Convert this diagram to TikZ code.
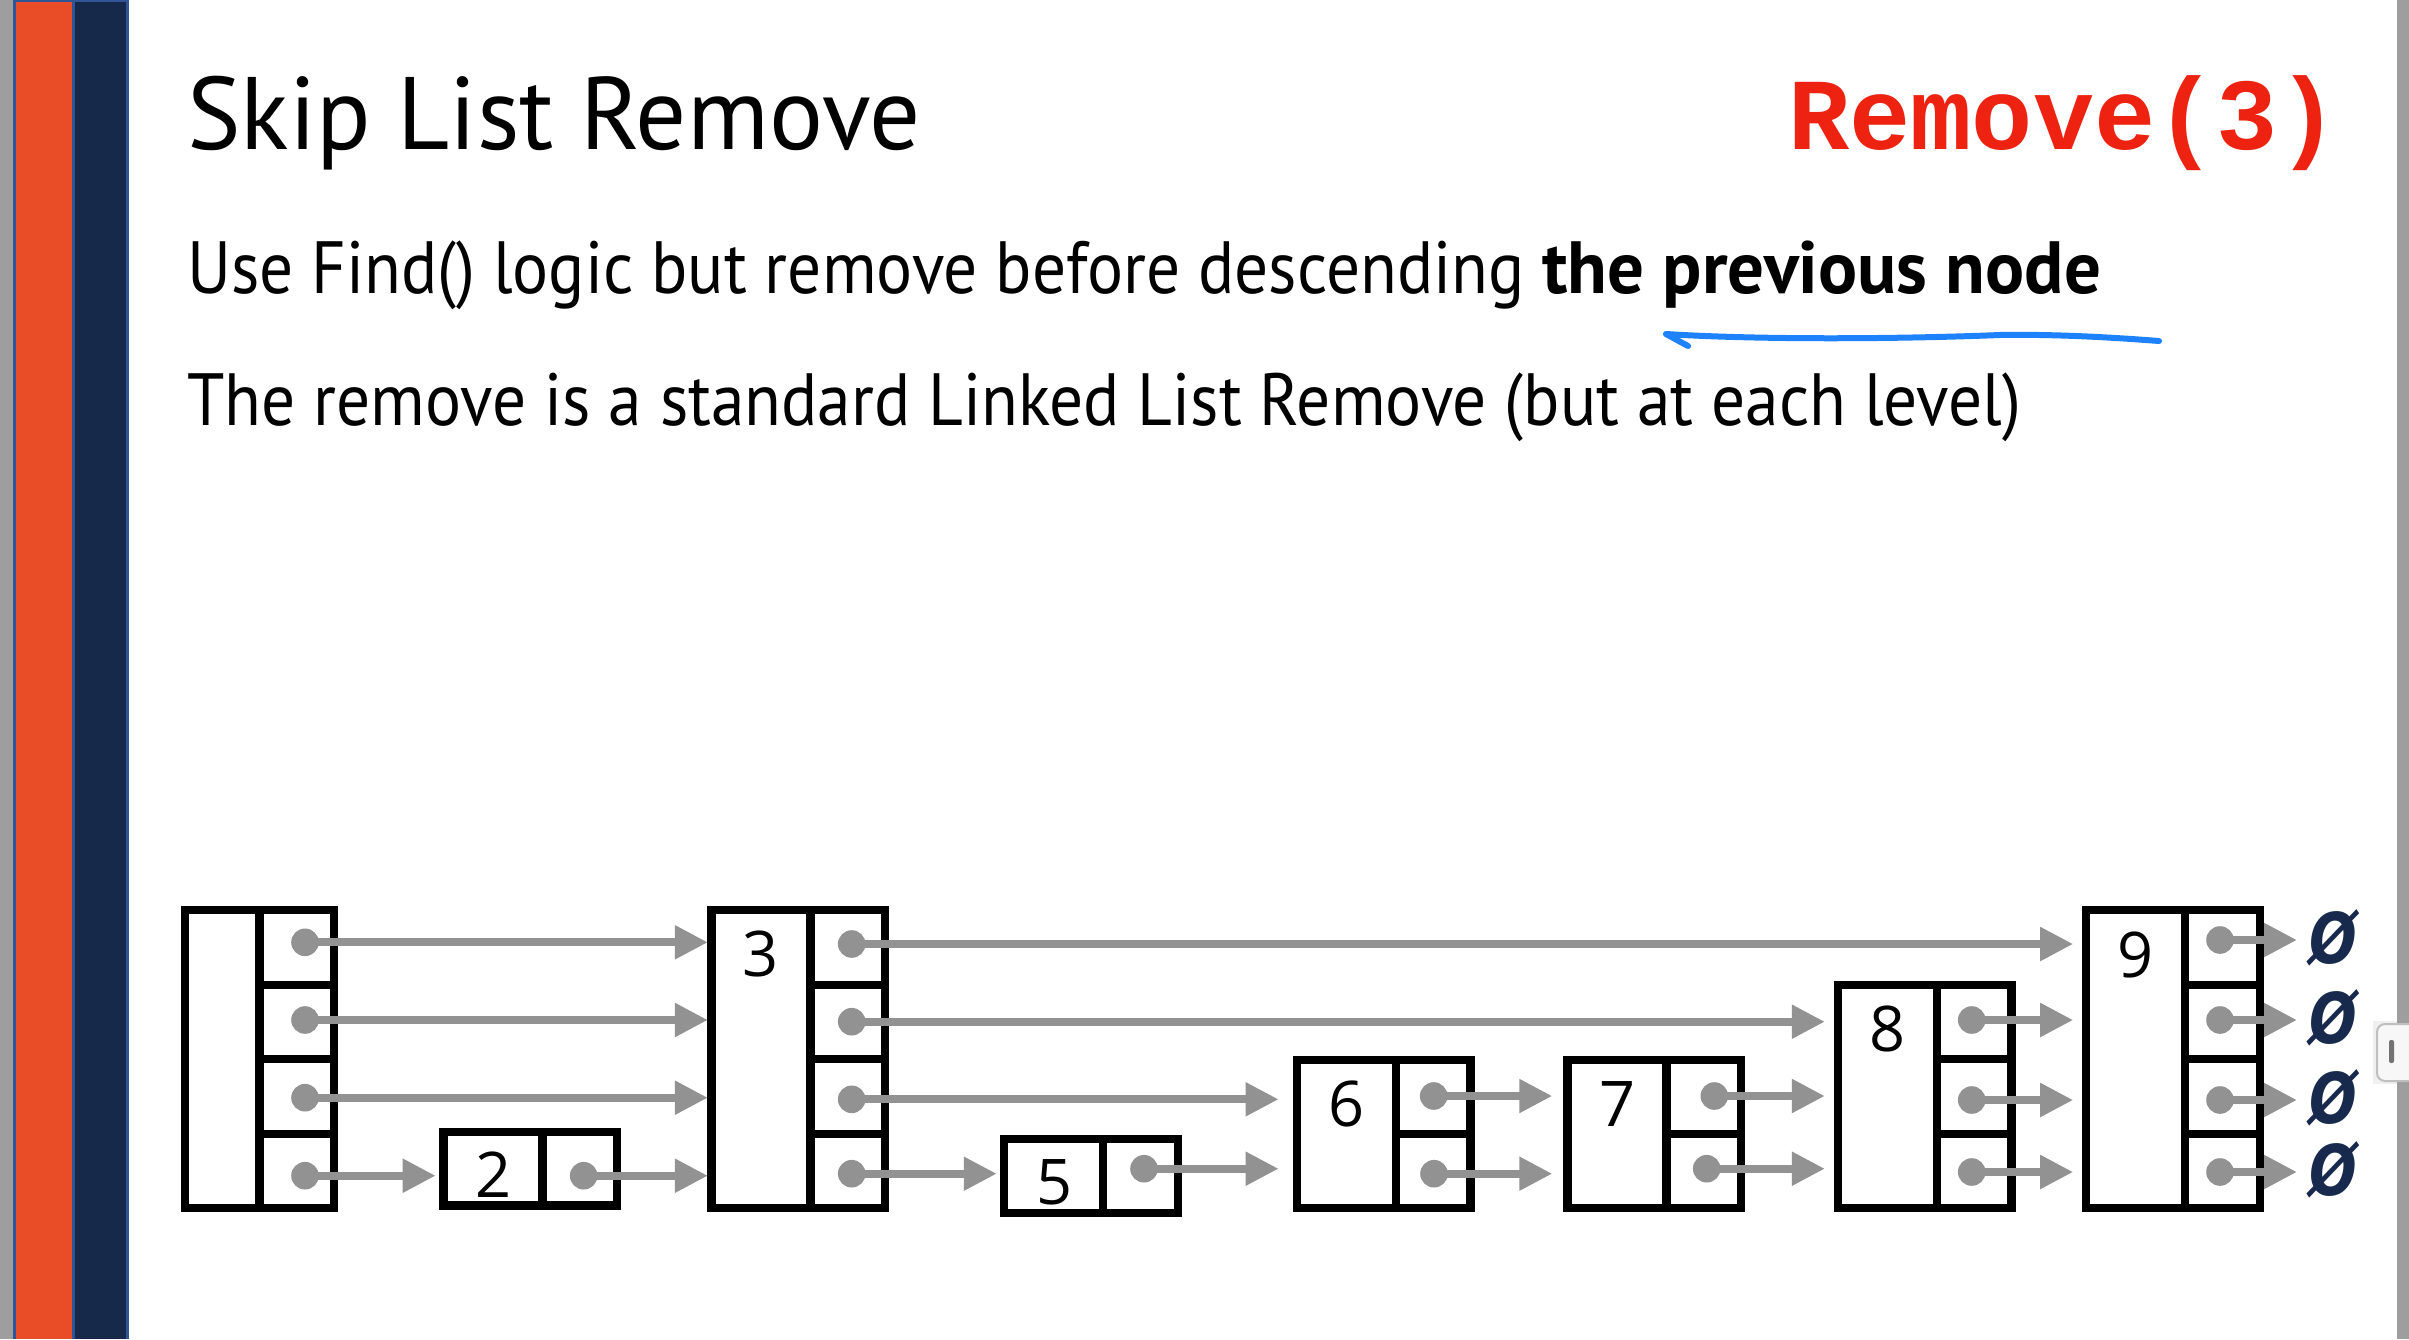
\documentclass[tikz,border=0pt]{standalone}
\usepackage{fontspec}
\setmainfont{PT Sans}
\newfontfamily\titlefont[FakeStretch=0.98]{PT Sans}
\newfontfamily\bodyfont[FakeStretch=0.91,BoldFeatures={FakeStretch=0.985}]{PT Sans}
\newfontfamily\digitfont{Open Sans}
\newfontfamily\codefont{Liberation Mono}
\newfontfamily\emptysetfont[FakeStretch=0.8]{DejaVu Sans}
\usetikzlibrary{arrows.meta}
\definecolor{ptrgray}{HTML}{929292}
\definecolor{navy}{HTML}{17294D}
\definecolor{barorange}{HTML}{E84D27}
\definecolor{barnavy}{HTML}{16294A}
\definecolor{barblue}{HTML}{2F5597}
\definecolor{sidegray}{HTML}{9E9E9E}
\definecolor{codered}{HTML}{EE2211}
\definecolor{penblue}{HTML}{1E82FF}
\begin{document}
\begin{tikzpicture}[x=1pt,y=-1pt,
  cellbox/.style={draw=black, line width=8.3pt, inner sep=0pt, outer sep=0pt, minimum height=74.5pt},
  valcell/.style={cellbox, minimum width=99pt},
  ptrcell/.style={cellbox, minimum width=74.6pt},
  dot/.style={circle, fill=ptrgray, inner sep=0pt, outer sep=0pt, minimum size=27.6pt},
  ptr/.style={draw=ptrgray, line width=8pt, -{Triangle[length=33pt,width=32pt]}},
  digit/.style={font=\digitfont\fontsize{63}{63}\selectfont, inner sep=0pt},
  nullptr/.style={text=navy, font=\emptysetfont\bfseries\itshape\fontsize{70}{70}\selectfont, inner sep=0pt, anchor=west},
  bodytext/.style={font=\bodyfont\fontsize{74}{80}\selectfont, inner sep=0pt, anchor=base west},
]
\useasboundingbox (0,0) rectangle (2409,1339);
\fill[white] (0,0) rectangle (2409,1339);
% side bars
\fill[sidegray] (0,0) rectangle (13.3,1339);
\fill[barblue] (13.3,0) rectangle (128.7,1339);
\fill[barorange] (15.7,2) rectangle (71.7,1339);
\fill[barnavy] (75,2) rectangle (126,1339);
% scrollbar
\fill[sidegray] (2397,0) rectangle (2409,1339);
\fill[black!6] (2373,1021) rectangle (2397,1084);
\draw[black!25, fill=black!3, line width=2pt, rounded corners=8pt] (2377,1024) rectangle (2420,1081);
\fill[black!55, rounded corners=2pt] (2389,1040) rectangle (2394,1063);

% texts
\node[anchor=base west, inner sep=0pt, font=\titlefont\fontsize{103}{110}\selectfont] (title) at (187,149) {Skip List Remove};
\node[anchor=base west, inner sep=0pt, text=codered, font=\codefont\bfseries\fontsize{102}{110}\selectfont] (call) at (1788,149) {Remove(3)};
\node[bodytext] (line1) at (187,293) {Use Find() logic but remove before descending \textbf{the previous node}};
\node[bodytext] (line2) at (187,425) {The remove is a standard Linked List Remove (but at each level)};
\draw[penblue, line width=6pt, line cap=round, line join=round]
  (1688,346) -- (1666,334) .. controls (1760,340) and (1900,339) .. (2000,335)
  .. controls (2060,334) and (2120,338) .. (2159,341);

% ---- cells ----
% head
\node[cellbox, minimum width=74.8pt, minimum height=298pt] (vh) at (222.4,1059.3) {};
\node[ptrcell] (ph1) at (296.8,947.55) {};
\node[ptrcell] (ph2) at (296.8,1022.05) {};
\node[ptrcell] (ph3) at (296.8,1096.55) {};
\node[ptrcell] (ph4) at (296.8,1171.05) {};
% 2
\node[valcell, minimum height=73.8pt] (v2) at (493,1168.6) {};
\node[ptrcell, minimum height=73.8pt] (p2) at (579.6,1168.6) {};
% 3
\node[valcell, minimum height=298pt] (v3) at (760.9,1059.3) {};
\node[ptrcell] (p31) at (847.65,947.55) {};
\node[ptrcell] (p32) at (847.65,1022.05) {};
\node[ptrcell] (p33) at (847.65,1096.55) {};
\node[ptrcell] (p34) at (847.65,1171.05) {};
% 5
\node[valcell, minimum height=73.9pt] (v5) at (1053.75,1176.25) {};
\node[ptrcell, minimum height=73.9pt] (p5) at (1140.55,1176.25) {};
% 6
\node[valcell, minimum height=148.4pt] (v6) at (1346.6,1134) {};
\node[ptrcell, minimum height=74.2pt] (p63) at (1433.1,1096.9) {};
\node[ptrcell, minimum height=74.2pt] (p64) at (1433.1,1171.1) {};
% 7
\node[valcell, minimum height=148.4pt] (v7) at (1617,1134) {};
\node[ptrcell, minimum height=74.2pt] (p73) at (1703.65,1096.9) {};
\node[ptrcell, minimum height=74.2pt] (p74) at (1703.65,1171.1) {};
% 8
\node[valcell, minimum height=223.5pt] (v8) at (1887.35,1096.55) {};
\node[ptrcell] (p82) at (1974.1,1022.05) {};
\node[ptrcell] (p83) at (1974.1,1096.55) {};
\node[ptrcell] (p84) at (1974.1,1171.05) {};
% 9
\node[valcell, minimum height=298pt] (v9) at (2135.7,1059.3) {};
\node[ptrcell] (p91) at (2222.6,947.55) {};
\node[ptrcell] (p92) at (2222.6,1022.05) {};
\node[ptrcell] (p93) at (2222.6,1096.55) {};
\node[ptrcell] (p94) at (2222.6,1171.05) {};

% digits
\node[digit] (n2) at (493.3,1175) {2};
\node[digit] (n3) at (760.9,954.3) {3};
\node[digit] (n5) at (1054.2,1182.5) {5};
\node[digit] (n6) at (1346.6,1103.8) {6};
\node[digit] (n7) at (1617,1103.8) {7};
\node[digit] (n8) at (1887.35,1029) {8};
\node[digit] (n9) at (2135.7,954.5) {9};

% null markers
\node[nullptr] (z1) at (2309,938) {Ø};
\node[nullptr] (z2) at (2309,1018) {Ø};
\node[nullptr] (z3) at (2309,1098) {Ø};
\node[nullptr] (z4) at (2309,1170) {Ø};

% dots (coordinates for pointers)
\coordinate (hd1) at (305,942.3);
\coordinate (hd2) at (305,1020);
\coordinate (hd3) at (305,1097.7);
\coordinate (hd4) at (305,1175.7);
\coordinate (d2) at (583.7,1175.7);
\coordinate (t1) at (851.7,944);
\coordinate (t2) at (851.7,1021.7);
\coordinate (t3) at (851.7,1099.3);
\coordinate (t4) at (851.7,1173.7);
\coordinate (d5) at (1144,1168.7);
\coordinate (s1) at (1433.7,1096);
\coordinate (s2) at (1434,1173.7);
\coordinate (e1) at (1714.3,1096);
\coordinate (e2) at (1706.7,1168.7);
\coordinate (g2) at (1971.7,1020);
\coordinate (g3) at (1971.7,1100);
\coordinate (g4) at (1971.7,1172);
\coordinate (k1) at (2220,940);
\coordinate (k2) at (2220,1020);
\coordinate (k3) at (2220,1100);
\coordinate (k4) at (2220,1172);

% pointers
\draw[ptr, shorten >=3.5pt] (hd1) -- (hd1 -| v3.west);
\draw[ptr, shorten >=3.5pt] (hd2) -- (hd2 -| v3.west);
\draw[ptr, shorten >=3.5pt] (hd3) -- (hd3 -| v3.west);
\draw[ptr, shorten >=7.8pt] (hd4) -- (hd4 -| v2.west);
\draw[ptr, shorten >=3.5pt] (d2) -- (d2 -| v3.west);
\draw[ptr, shorten >=13pt] (t1) -- (t1 -| v9.west);
\draw[ptr, shorten >=13pt] (t2) -- (t2 -| v8.west);
\draw[ptr, shorten >=18.5pt] (t3) -- (t3 -| v6.west);
\draw[ptr, shorten >=7.5pt] (t4) -- (t4 -| v5.west);
\draw[ptr, shorten >=18.5pt] (d5) -- (d5 -| v6.west);
\draw[ptr, shorten >=15.2pt] (s1) -- (s1 -| v7.west);
\draw[ptr, shorten >=15.2pt] (s2) -- (s2 -| v7.west);
\draw[ptr, shorten >=13pt] (e1) -- (e1 -| v8.west);
\draw[ptr, shorten >=13pt] (e2) -- (e2 -| v8.west);
\draw[ptr, shorten >=13pt] (g2) -- (g2 -| v9.west);
\draw[ptr, shorten >=13pt] (g3) -- (g3 -| v9.west);
\draw[ptr, shorten >=13pt] (g4) -- (g4 -| v9.west);
\draw[ptr, shorten >=12pt] (k1) -- (k1 -| z1.west);
\draw[ptr, shorten >=12pt] (k2) -- (k2 -| z2.west);
\draw[ptr, shorten >=12pt] (k3) -- (k3 -| z3.west);
\draw[ptr, shorten >=12pt] (k4) -- (k4 -| z4.west);

% dots on top
\foreach \c in {hd1,hd2,hd3,hd4,d2,t1,t2,t3,t4,d5,s1,s2,e1,e2,g2,g3,g4,k1,k2,k3,k4}
  \node[dot] (dot-\c) at (\c) {};
\end{tikzpicture}
\end{document}
